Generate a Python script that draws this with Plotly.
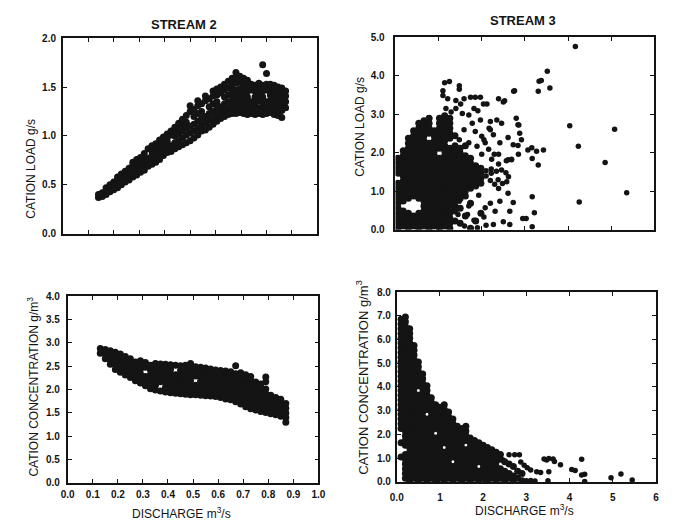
import plotly.graph_objects as go

# ---------------------------------------------------------------------------
# Stream 2: cation load (g/s) against discharge (m3/s).
# Each entry is (discharge, [loads observed at that discharge]).
s2_load = [
    (0.140, [0.37, 0.40]),
    (0.155, [0.38, 0.42]),
    (0.170, [0.40, 0.44, 0.47]),
    (0.185, [0.43, 0.47, 0.50]),
    (0.200, [0.45, 0.49, 0.53]),
    (0.215, [0.47, 0.51, 0.55, 0.58]),
    (0.230, [0.50, 0.54, 0.58, 0.61]),
    (0.245, [0.53, 0.57, 0.61, 0.64]),
    (0.260, [0.55, 0.59, 0.63, 0.67]),
    (0.275, [0.58, 0.62, 0.66, 0.70, 0.73]),
    (0.290, [0.60, 0.64, 0.68, 0.72, 0.76]),
    (0.305, [0.63, 0.67, 0.71, 0.75, 0.78]),
    (0.320, [0.65, 0.70, 0.74, 0.78, 0.82]),
    (0.335, [0.69, 0.73, 0.77, 0.87]),
    (0.350, [0.71, 0.76, 0.80, 0.85, 0.90]),
    (0.365, [0.73, 0.79, 0.84, 0.88, 0.92]),
    (0.380, [0.76, 0.82, 0.87, 0.92, 0.96]),
    (0.395, [0.80, 0.85, 0.90, 0.95, 0.99]),
    (0.410, [0.83, 0.88, 0.94, 0.98, 1.02]),
    (0.425, [0.84, 0.90, 1.01, 1.05]),
    (0.440, [0.87, 0.93, 1.00, 1.05, 1.09]),
    (0.455, [0.89, 0.95, 1.02, 1.08, 1.13]),
    (0.470, [0.91, 0.98, 1.05, 1.11, 1.17]),
    (0.485, [0.93, 1.01, 1.08, 1.14, 1.21]),
    (0.500, [0.95, 1.03, 1.10, 1.25, 1.31]),
    (0.515, [0.98, 1.05, 1.12, 1.20, 1.27]),
    (0.530, [1.01, 1.08, 1.15, 1.23, 1.31, 1.36]),
    (0.545, [1.05, 1.11, 1.18, 1.25, 1.33]),
    (0.560, [1.06, 1.13, 1.20, 1.36, 1.41]),
    (0.575, [1.09, 1.16, 1.23, 1.30, 1.38]),
    (0.590, [1.12, 1.18, 1.25, 1.33, 1.41, 1.46]),
    (0.605, [1.15, 1.21, 1.28, 1.35, 1.42, 1.48]),
    (0.620, [1.18, 1.24, 1.30, 1.44, 1.50]),
    (0.635, [1.20, 1.26, 1.33, 1.40, 1.47, 1.53]),
    (0.650, [1.22, 1.28, 1.35, 1.42, 1.49, 1.56]),
    (0.665, [1.23, 1.29, 1.35, 1.41, 1.47, 1.53, 1.59]),
    (0.680, [1.23, 1.29, 1.35, 1.41, 1.47, 1.54, 1.60, 1.65]),
    (0.695, [1.24, 1.30, 1.36, 1.42, 1.48, 1.55, 1.61]),
    (0.710, [1.23, 1.29, 1.35, 1.41, 1.47, 1.53, 1.59]),
    (0.725, [1.22, 1.28, 1.34, 1.40, 1.46, 1.52, 1.57]),
    (0.740, [1.23, 1.29, 1.35, 1.47, 1.53]),
    (0.755, [1.22, 1.28, 1.34, 1.40, 1.46, 1.52]),
    (0.770, [1.23, 1.29, 1.36, 1.42, 1.48, 1.54]),
    (0.785, [1.22, 1.28, 1.34, 1.40, 1.46, 1.52, 1.73]),
    (0.800, [1.23, 1.29, 1.35, 1.47, 1.53, 1.64]),
    (0.815, [1.24, 1.30, 1.36, 1.42, 1.48, 1.53]),
    (0.830, [1.22, 1.28, 1.34, 1.40, 1.46, 1.52]),
    (0.845, [1.21, 1.27, 1.33, 1.39, 1.45, 1.50]),
    (0.860, [1.19, 1.26, 1.32, 1.38, 1.44, 1.49]),
    (0.875, [1.29, 1.35, 1.41, 1.46]),
]

# Stream 2: cation concentration (g/m3) against discharge (m3/s).
s2_conc = [
    (0.13, [2.78, 2.88]),
    (0.15, [2.66, 2.76, 2.86]),
    (0.17, [2.54, 2.64, 2.74, 2.83]),
    (0.19, [2.43, 2.53, 2.63, 2.73, 2.80]),
    (0.21, [2.37, 2.47, 2.57, 2.67, 2.76]),
    (0.23, [2.31, 2.41, 2.51, 2.61, 2.71]),
    (0.25, [2.26, 2.36, 2.46, 2.56, 2.66]),
    (0.27, [2.19, 2.29, 2.39, 2.49, 2.59]),
    (0.29, [2.14, 2.24, 2.34, 2.44, 2.54, 2.62]),
    (0.31, [2.08, 2.18, 2.28, 2.48, 2.58]),
    (0.33, [2.02, 2.12, 2.22, 2.32, 2.42, 2.52]),
    (0.35, [1.99, 2.09, 2.19, 2.29, 2.39, 2.49, 2.56]),
    (0.37, [1.97, 2.17, 2.27, 2.37, 2.47, 2.55]),
    (0.39, [1.95, 2.05, 2.15, 2.25, 2.35, 2.45, 2.54]),
    (0.41, [1.93, 2.03, 2.13, 2.23, 2.33, 2.43, 2.53]),
    (0.43, [1.92, 2.02, 2.12, 2.22, 2.32, 2.52]),
    (0.45, [1.91, 2.01, 2.11, 2.21, 2.31, 2.41, 2.51]),
    (0.47, [1.90, 2.00, 2.10, 2.20, 2.30, 2.40, 2.52]),
    (0.49, [1.89, 1.99, 2.09, 2.19, 2.29, 2.39, 2.49, 2.56]),
    (0.51, [1.89, 1.99, 2.09, 2.29, 2.39, 2.49]),
    (0.53, [1.88, 1.98, 2.08, 2.18, 2.28, 2.38, 2.48]),
    (0.55, [1.87, 1.97, 2.07, 2.17, 2.27, 2.37, 2.46]),
    (0.57, [1.86, 1.96, 2.06, 2.16, 2.26, 2.36, 2.44]),
    (0.59, [1.85, 1.95, 2.05, 2.15, 2.25, 2.35, 2.42]),
    (0.61, [1.83, 1.93, 2.03, 2.13, 2.23, 2.33, 2.41]),
    (0.63, [1.80, 1.90, 2.00, 2.10, 2.20, 2.30, 2.40]),
    (0.65, [1.78, 1.88, 1.98, 2.08, 2.18, 2.28, 2.38]),
    (0.67, [1.74, 1.84, 1.94, 2.04, 2.14, 2.24, 2.34, 2.51]),
    (0.69, [1.69, 1.79, 1.89, 1.99, 2.09, 2.19, 2.29, 2.36]),
    (0.71, [1.63, 1.73, 1.83, 1.93, 2.03, 2.13, 2.23, 2.32]),
    (0.73, [1.59, 1.69, 1.79, 1.89, 1.99, 2.09, 2.19, 2.28]),
    (0.75, [1.56, 1.66, 1.76, 1.86, 1.96, 2.06, 2.16]),
    (0.77, [1.53, 1.63, 1.73, 1.83, 1.93, 2.03, 2.12]),
    (0.79, [1.51, 1.61, 1.71, 1.81, 1.91, 2.01, 2.17, 2.27]),
    (0.81, [1.48, 1.58, 1.68, 1.78, 1.88]),
    (0.83, [1.46, 1.56, 1.66, 1.76, 1.83]),
    (0.85, [1.43, 1.53, 1.63, 1.73, 1.79]),
    (0.87, [1.30, 1.40, 1.50, 1.60, 1.70]),
]

# Stream 3: cation load (g/s) against discharge (m3/s) - dense core.
s3_load = [
    (0.06, [0.04, 0.17, 0.30, 0.43, 0.56, 0.69, 0.82, 0.95, 1.08, 1.21, 1.47, 1.60, 1.73, 1.86]),
    (0.18, [0.10, 0.23, 0.36, 0.49, 0.75, 0.88, 1.01, 1.14, 1.27, 1.40, 1.53, 1.66, 1.79, 1.92, 2.05]),
    (0.30, [0.04, 0.17, 0.30, 0.43, 0.82, 0.95, 1.08, 1.21, 1.34, 1.47, 1.60, 1.73, 1.86, 1.99,
            2.12, 2.25, 2.38]),
    (0.42, [0.10, 0.23, 0.36, 0.88, 1.01, 1.14, 1.27, 1.40, 1.53, 1.66, 1.79, 1.92,
            2.05, 2.18, 2.31, 2.44, 2.57]),
    (0.54, [0.04, 0.17, 0.30, 0.43, 0.82, 0.95, 1.08, 1.21, 1.34, 1.47, 1.60, 1.73,
            1.86, 1.99, 2.12, 2.25, 2.38, 2.51, 2.64, 2.77]),
    (0.66, [0.10, 0.23, 0.36, 0.49, 0.62, 0.75, 0.88, 1.01, 1.14, 1.27, 1.40, 1.53, 1.66, 1.79,
            1.92, 2.05, 2.18, 2.31, 2.44, 2.57, 2.70, 2.83]),
    (0.78, [0.04, 0.17, 0.30, 0.43, 0.56, 0.69, 0.82, 0.95, 1.08, 1.21, 1.34, 1.47, 1.60, 1.73,
            1.86, 1.99, 2.12, 2.25, 2.51, 2.64, 2.77, 2.90]),
    (0.90, [0.10, 0.23, 0.36, 0.49, 0.62, 0.75, 0.88, 1.01, 1.14, 1.27, 1.40, 1.53, 1.66, 1.79,
            1.92, 2.05, 2.18, 2.31, 2.44, 2.57]),
    (1.02, [0.04, 0.17, 0.30, 0.43, 0.56, 0.69, 0.82, 0.95, 1.08, 1.21, 1.34, 1.47, 1.60, 1.73,
            1.86, 2.12, 2.25, 2.38, 2.51, 2.64, 2.77, 2.90]),
    (1.14, [0.10, 0.23, 0.36, 0.49, 0.62, 0.75, 0.88, 1.01, 1.14, 1.27, 1.40, 1.53, 1.66, 1.79,
            1.92, 2.05, 2.18, 2.31, 2.44, 2.57, 2.70, 2.83, 2.96]),
    (1.26, [0.04, 0.17, 0.30, 0.43, 0.56, 0.69, 0.82, 0.95, 1.08, 1.21, 1.34, 1.47, 1.60, 1.73,
            1.86, 1.99, 2.12, 2.38, 2.51, 2.64, 2.77, 2.90]),
    (1.38, [0.23, 0.49, 0.62, 0.75, 0.88, 1.01, 1.14, 1.27, 1.40, 1.53, 1.66, 1.79, 1.92, 2.05,
            2.18, 2.44]),
    (1.50, [0.17, 0.56, 0.82, 0.95, 1.08, 1.21, 1.34, 1.47, 1.60, 1.73, 1.86, 1.99, 2.12]),
    (1.62, [0.36, 0.88, 1.01, 1.14, 1.27, 1.40, 1.53, 1.66, 1.79, 1.92, 2.18]),
    (1.74, [0.04, 0.69, 1.08, 1.21, 1.34, 1.47, 1.60, 1.73, 1.86]),
    (1.86, [0.23, 1.14, 1.27, 1.40, 1.53, 1.66]),
    (1.98, [0.43, 1.21, 1.34, 1.47, 1.60]),
]

# Stream 3: cation load - scattered observations as (discharge, load).
s3_load_sparse = [
    (2.10, 1.40), (2.10, 1.53), (2.22, 1.47), (2.22, 1.58), (2.34, 1.52), (2.46, 1.55),
    (2.56, 1.48), (2.62, 1.38), (2.58, 1.25), (2.48, 1.20), (2.38, 1.30), (2.30, 1.18),
    (2.20, 1.28),
    (1.48, 0.74), (1.67, 0.40), (1.82, 0.25), (2.05, 0.33), (2.20, 0.69), (2.31, 0.48),
    (2.42, 0.74), (2.27, 0.14), (2.50, 0.21), (2.65, 0.14), (2.73, 0.71), (2.65, 0.48),
    (2.39, 1.07), (2.61, 0.95), (1.93, 0.90), (2.08, 0.57), (1.60, 0.10), (1.90, 0.05),
    (2.10, 0.12), (1.45, 0.40), (1.70, 0.62),
    (1.14, 3.82), (1.25, 3.85), (1.48, 3.74), (1.48, 3.65), (1.10, 3.61), (1.10, 3.49),
    (1.21, 3.40), (1.40, 3.36), (1.51, 3.27), (1.59, 3.40), (1.74, 3.44), (1.85, 3.44),
    (2.04, 3.27), (2.12, 3.27), (2.39, 3.40), (2.50, 3.32), (2.76, 3.61), (1.17, 3.15),
    (1.29, 3.06), (1.40, 3.15), (1.55, 3.02), (1.70, 2.98), (1.82, 3.15), (1.97, 2.85),
    (1.78, 2.77), (2.20, 2.81), (2.46, 2.77), (2.80, 2.90), (2.84, 2.73), (1.59, 2.60),
    (1.85, 2.55), (2.17, 2.64), (2.27, 2.47), (2.00, 2.43), (1.48, 2.34), (1.70, 2.26),
    (1.89, 2.17), (2.08, 2.26), (2.42, 2.26), (2.73, 2.21), (2.88, 2.51), (2.92, 2.34),
    (2.69, 1.83), (2.57, 1.79), (2.23, 1.83), (2.39, 1.71), (2.00, 1.96), (1.97, 3.44),
    (1.91, 3.09), (2.35, 2.85), (2.53, 3.35), (2.74, 3.60), (2.86, 2.72), (2.84, 2.19),
    (2.85, 1.96), (2.61, 1.82), (2.69, 1.82), (2.61, 2.40), (2.39, 1.96), (2.29, 1.96),
    (2.16, 2.09), (2.20, 2.60), (2.05, 2.34),
    (4.17, 4.76), (3.52, 4.12), (3.33, 3.86), (3.38, 3.88), (3.58, 3.68), (3.31, 3.60),
    (4.04, 2.70), (5.08, 2.61), (4.24, 2.17), (4.86, 1.75), (5.36, 0.96), (4.26, 0.72),
    (3.07, 2.07), (3.16, 2.13), (3.27, 2.04), (3.43, 2.07), (3.17, 1.85), (3.31, 1.68),
    (3.17, 0.86), (3.22, 0.44), (2.95, 0.29), (3.03, 0.29), (3.17, 0.08),
]

# Stream 3: cation concentration (g/m3) against discharge (m3/s) - dense core.
s3_conc = [
    (0.10, [1.05, 1.65, 2.25, 2.45, 2.65, 2.85, 3.05, 3.25, 3.45, 3.65, 3.85, 4.05, 4.25, 4.45,
            4.65, 4.85, 5.05, 5.25, 5.45, 5.65, 5.85, 6.05, 6.25, 6.45, 6.65, 6.85]),
    (0.20, [0.15, 0.35, 0.55, 0.75, 0.95, 1.15, 1.55, 1.75, 1.95, 2.15, 2.35, 2.55, 2.75, 2.95,
            3.15, 3.35, 3.55, 3.75, 3.95, 4.15, 4.35, 4.55, 4.75, 4.95, 5.15, 5.35, 5.55, 5.75,
            5.95, 6.15, 6.35, 6.55, 6.75, 6.95]),
    (0.30, [0.05, 0.25, 0.45, 0.65, 0.85, 1.05, 1.25, 1.45, 1.65, 1.85, 2.05, 2.25, 2.45, 2.65,
            2.85, 3.05, 3.25, 3.45, 3.65, 3.85, 4.05, 4.25, 4.45, 4.65, 4.85, 5.05, 5.25, 5.45,
            5.65, 5.85, 6.05, 6.25, 6.45]),
    (0.40, [0.15, 0.35, 0.55, 0.75, 0.95, 1.15, 1.35, 1.55, 1.75, 1.95, 2.15, 2.35, 2.55, 2.75,
            2.95, 3.15, 3.35, 3.55, 3.75, 3.95, 4.15, 4.35, 4.55, 4.75, 4.95, 5.15, 5.35, 5.55,
            5.75]),
    (0.50, [0.05, 0.25, 0.45, 0.65, 0.85, 1.05, 1.25, 1.45, 1.65, 1.85, 2.05, 2.25, 2.45, 2.65,
            2.85, 3.05, 3.25, 3.45, 3.65, 4.05, 4.25, 4.45, 4.65, 4.85, 5.05]),
    (0.60, [0.15, 0.35, 0.55, 0.75, 0.95, 1.15, 1.35, 1.55, 1.75, 1.95, 2.15, 2.35, 2.55, 2.75,
            2.95, 3.15, 3.35, 3.55, 3.75, 3.95, 4.15, 4.35, 4.55]),
    (0.70, [0.05, 0.25, 0.45, 0.65, 0.85, 1.05, 1.25, 1.45, 1.65, 1.85, 2.05, 2.25, 2.45, 2.65,
            3.05, 3.25, 3.45, 3.65, 3.85, 4.05]),
    (0.80, [0.15, 0.35, 0.55, 0.75, 0.95, 1.15, 1.35, 1.55, 1.75, 1.95, 2.15, 2.35, 2.55, 2.75,
            2.95, 3.15, 3.35, 3.55]),
    (0.90, [0.05, 0.25, 0.45, 0.65, 0.85, 1.05, 1.25, 1.45, 1.65, 1.85, 2.25, 2.45, 2.65, 2.85,
            3.05, 3.25]),
    (1.00, [0.15, 0.35, 0.55, 0.75, 0.95, 1.15, 1.35, 1.55, 1.75, 1.95, 2.15, 2.35, 2.55, 2.75,
            2.95, 3.15]),
    (1.10, [0.05, 0.25, 0.45, 0.65, 0.85, 1.05, 1.25, 1.65, 1.85, 2.05, 2.25, 2.45, 2.65, 2.85,
            3.05, 3.25]),
    (1.20, [0.15, 0.35, 0.55, 0.75, 0.95, 1.15, 1.35, 1.55, 1.75, 1.95, 2.15, 2.35, 2.55, 2.75,
            2.95]),
    (1.30, [0.05, 0.25, 0.45, 0.65, 1.05, 1.25, 1.45, 1.65, 1.85, 2.05, 2.25, 2.45, 2.65]),
    (1.40, [0.15, 0.35, 0.55, 0.75, 0.95, 1.15, 1.35, 1.55, 1.75, 1.95, 2.15, 2.35]),
    (1.50, [0.05, 0.25, 0.45, 0.65, 0.85, 1.05, 1.25, 1.45, 1.65, 1.85, 2.05, 2.25]),
    (1.60, [0.15, 0.35, 0.55, 0.75, 0.95, 1.15, 1.35, 1.75, 1.95, 2.15, 2.35]),
    (1.70, [0.05, 0.25, 0.45, 0.65, 0.85, 1.05, 1.25, 1.45, 1.65, 1.85]),
    (1.80, [0.15, 0.35, 0.55, 0.75, 0.95, 1.15, 1.35, 1.55, 1.75]),
    (1.90, [0.05, 0.25, 0.45, 0.85, 1.05, 1.25, 1.45, 1.65]),
    (2.00, [0.15, 0.35, 0.55, 0.75, 0.95, 1.15, 1.35, 1.55]),
    (2.10, [0.05, 0.25, 0.45, 0.65, 0.85, 1.05, 1.25, 1.45]),
    (2.20, [0.15, 0.35, 0.55, 0.75, 0.95, 1.15, 1.35]),
    (2.30, [0.05, 0.25, 0.45, 0.65, 0.85, 1.05, 1.25]),
    (2.40, [0.15, 0.35, 0.55, 0.95, 1.15]),
    (2.50, [0.05, 0.25, 0.45, 0.85]),
    (2.60, [0.15, 0.35, 0.75]),
    (2.70, [0.05, 0.25, 0.65]),
    (2.80, [0.15, 0.45]),
    (2.90, [0.05, 0.35]),
]

# Stream 3: cation concentration - scattered observations as (discharge, concentration).
s3_conc_sparse = [
    (2.60, 1.14), (2.73, 1.14), (2.84, 1.14), (2.46, 0.92), (2.87, 0.84), (2.95, 0.70),
    (3.02, 0.60), (3.10, 0.50), (3.24, 0.43), (3.33, 0.40), (3.41, 0.97), (3.47, 0.92),
    (3.52, 0.99), (3.62, 0.97), (3.65, 0.86), (3.52, 0.43), (3.79, 0.72), (4.28, 0.95),
    (4.13, 0.48), (4.05, 0.52), (4.35, 0.32), (4.28, 0.29), (4.96, 0.18), (5.19, 0.33),
    (5.45, 0.08), (4.35, 0.02), (3.00, 0.05), (3.10, 0.06), (3.20, 0.04), (3.50, 0.05),
]

# Tick labels
s2_load_ticks = ["0.0", "0.5", "1.0", "1.5", "2.0"]
s3_load_ticks = ["0.0", "1.0", "2.0", "3.0", "4.0", "5.0"]
s2_conc_ticks = ["0.0", "0.5", "1.0", "1.5", "2.0", "2.5", "3.0", "3.5", "4.0"]
s3_conc_ticks = ["0.0", "1.0", "2.0", "3.0", "4.0", "5.0", "6.0", "7.0", "8.0"]
s2_q_ticks = ["0.0", "0.1", "0.2", "0.3", "0.4", "0.5", "0.6", "0.7", "0.8", "0.9", "1.0"]
s3_q_ticks = ["0.0", "1", "2", "3", "4", "5", "6"]


def columns_to_xy(cols):
    xs, ys = [], []
    for q, vals in cols:
        for v in vals:
            xs.append(q)
            ys.append(v)
    return xs, ys


def pairs_to_xy(pairs):
    return [p[0] for p in pairs], [p[1] for p in pairs]


W, H = 675, 527
INK = "#141414"
FONT = "Liberation Sans, Arial, Helvetica, sans-serif"


def dom_x(a, b):
    return [a / W, b / W]


def dom_y(top, bottom):
    return [1 - bottom / H, 1 - top / H]


fig = go.Figure()

# (axis pair, points, marker size): dense clouds use slightly larger dots so
# neighbouring observations merge into solid areas.
layers = [
    ("x", "y", columns_to_xy(s2_load), 7),
    ("x2", "y2", columns_to_xy(s3_load), 7),
    ("x2", "y2", pairs_to_xy(s3_load_sparse), 5.5),
    ("x3", "y3", columns_to_xy(s2_conc), 7),
    ("x4", "y4", columns_to_xy(s3_conc), 7),
    ("x4", "y4", pairs_to_xy(s3_conc_sparse), 5.5),
]
for xa, ya, (xs, ys), size in layers:
    fig.add_trace(go.Scatter(
        x=xs, y=ys, xaxis=xa, yaxis=ya, mode="markers",
        marker=dict(size=size, color=INK, line=dict(width=0)),
        showlegend=False, hoverinfo="skip", cliponaxis=True,
    ))

tickfont = dict(family=FONT, size=10, color=INK, weight="bold")
common = dict(
    showline=True, linecolor=INK, linewidth=1.6, mirror="ticks",
    ticks="inside", ticklen=4, tickwidth=1, tickcolor=INK,
    showgrid=False, zeroline=False, tickfont=tickfont, fixedrange=True,
)


def ticks(n, step):
    return [round(i * step, 3) for i in range(n)]


fig.update_layout(
    width=W, height=H,
    margin=dict(l=0, r=0, t=0, b=0),
    paper_bgcolor="white", plot_bgcolor="white",
    xaxis=dict(common, domain=dom_x(57, 317), range=[0, 1], anchor="y",
               tickvals=ticks(11, 0.1), showticklabels=False),
    yaxis=dict(common, domain=dom_y(33, 233), range=[0, 2], anchor="x",
               tickvals=ticks(5, 0.5), ticktext=s2_load_ticks, ticklabelstandoff=3),
    xaxis2=dict(common, domain=dom_x(396.7, 661), range=[0, 6], anchor="y2",
                tickvals=ticks(7, 1), showticklabels=False),
    yaxis2=dict(common, domain=dom_y(32, 229), range=[0, 5], anchor="x2",
                tickvals=ticks(6, 1), ticktext=s3_load_ticks, ticklabelstandoff=7),
    xaxis3=dict(common, domain=dom_x(62, 318), range=[0, 1], anchor="y3",
                tickvals=ticks(11, 0.1), ticktext=s2_q_ticks, ticklabelstandoff=1),
    yaxis3=dict(common, domain=dom_y(297, 488), range=[0, 4], anchor="x3",
                tickvals=ticks(9, 0.5), ticktext=s2_conc_ticks, ticklabelstandoff=4),
    xaxis4=dict(common, domain=dom_x(398, 662.7), range=[0, 6], anchor="y4",
                tickvals=ticks(7, 1), ticktext=s3_q_ticks, ticklabelstandoff=5),
    yaxis4=dict(common, domain=dom_y(292.7, 487), range=[0, 8], anchor="x4",
                tickvals=ticks(9, 1), ticktext=s3_conc_ticks, ticklabelstandoff=2),
)


def note(text, cx, cy, size, angle=0, bold=False):
    font = dict(family=FONT, size=size, color=INK)
    if bold:
        font["weight"] = "bold"
    fig.add_annotation(
        text=text, xref="paper", yref="paper", x=cx / W, y=1 - cy / H,
        xanchor="center", yanchor="middle", showarrow=False, textangle=angle,
        font=font,
    )


note("STREAM 2", 181, 19, 13, bold=True)
note("STREAM 3", 527, 15, 13, bold=True)
note("CATION LOAD g/s", 25, 166, 12, angle=-90)
note("CATION LOAD g/s", 361, 124, 12, angle=-90)
note("CATION CONCENTRATION g/m<sup>3</sup>", 27, 389, 12, angle=-90)
note("CATION CONCENTRATION g/m<sup>3</sup>", 363, 380, 13, angle=-90)
note("DISCHARGE m<sup>3</sup>/s", 178, 519, 12)
note("DISCHARGE m<sup>3</sup>/s", 528, 516, 12)

fig.write_html("out.html")
